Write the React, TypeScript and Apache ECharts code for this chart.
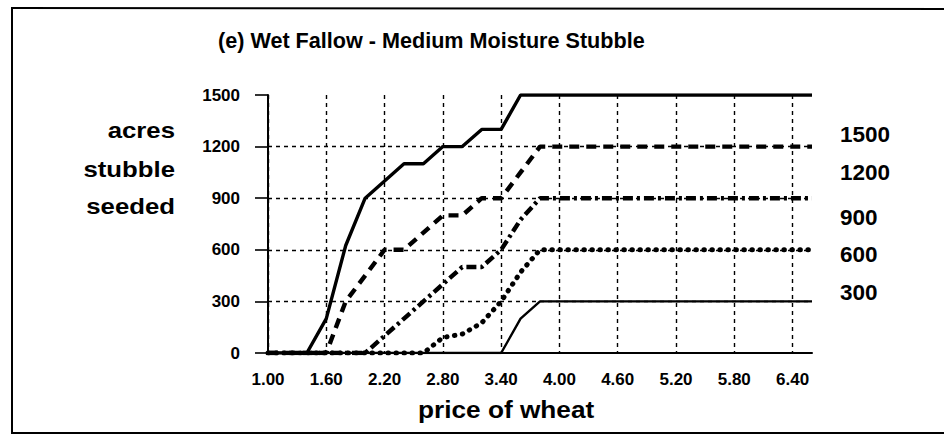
import React, { useEffect, useRef } from "react";
import * as echarts from "echarts";

const prices = [
  "1.00", "1.20", "1.40", "1.60", "1.80", "2.00", "2.20", "2.40", "2.60", "2.80",
  "3.00", "3.20", "3.40", "3.60", "3.80", "4.00", "4.20", "4.40", "4.60", "4.80",
  "5.00", "5.20", "5.40", "5.60", "5.80", "6.00", "6.20", "6.40", "6.60",
];

const yMin = 0;
const yMax = 1500;
const yStep = 300;

const acres1500 = [
  0, 0, 0, 200, 625, 900, 1000, 1100, 1100, 1200, 1200, 1300, 1300, 1500, 1500,
  1500, 1500, 1500, 1500, 1500, 1500, 1500, 1500, 1500, 1500, 1500, 1500, 1500, 1500,
];
const acres1200 = [
  0, 0, 0, 0, 300, 450, 600, 600, 700, 800, 800, 900, 900, 1050, 1200,
  1200, 1200, 1200, 1200, 1200, 1200, 1200, 1200, 1200, 1200, 1200, 1200, 1200, 1200,
];
const acres900 = [
  0, 0, 0, 0, 0, 0, 100, 200, 300, 400, 500, 500, 600, 775, 900,
  900, 900, 900, 900, 900, 900, 900, 900, 900, 900, 900, 900, 900, 900,
];
const acres600 = [
  0, 0, 0, 0, 0, 0, 0, 0, 0, 90, 110, 175, 300, 470, 600,
  600, 600, 600, 600, 600, 600, 600, 600, 600, 600, 600, 600, 600, 600,
];
const acres300 = [
  0, 0, 0, 0, 0, 0, 0, 0, 0, 0, 0, 0, 0, 200, 300,
  300, 300, 300, 300, 300, 300, 300, 300, 300, 300, 300, 300, 300, 300,
];

const seriesNames = ["1500", "1200", "900", "600", "300"];
const leftLabelLines = ["acres", "stubble", "seeded"];
const titleText = "(e) Wet Fallow - Medium Moisture Stubble";
const xAxisName = "price of wheat";

const FONT = "'Liberation Sans', Arial, Helvetica, sans-serif";

export default function App() {
  const ref = useRef<HTMLDivElement>(null);

  useEffect(() => {
    document.body.style.margin = "0";
    const chart = echarts.init(ref.current!, null, { renderer: "svg" });

    const gridStyle = { color: "#000", width: 1.4, type: [4, 4] as number[] };

    const rightLabelY = [134, 172.5, 217.5, 254, 292.5];
    const leftLabelY = [130.2, 168.9, 205.5];
    const frameStyle = { stroke: "#000", lineWidth: 2 };

    const graphic: any[] = [
      { type: "line", shape: { x1: 12, y1: 8, x2: 944, y2: 9 }, style: frameStyle, silent: true },
      { type: "line", shape: { x1: 12, y1: 7, x2: 12, y2: 434 }, style: frameStyle, silent: true },
      { type: "line", shape: { x1: 12, y1: 433, x2: 944, y2: 433 }, style: frameStyle, silent: true },
      ...leftLabelLines.map((t, i) => ({
        type: "text",
        x: 175,
        y: leftLabelY[i],
        scaleX: 1.12,
        style: {
          text: t,
          fontSize: 23,
          fontWeight: "bold",
          fontFamily: FONT,
          fill: "#000",
          align: "right",
          verticalAlign: "middle",
        },
      })),
      ...seriesNames.map((t, i) => ({
        type: "text",
        x: 840,
        y: rightLabelY[i],
        style: {
          text: t,
          fontSize: 22.5,
          fontWeight: "bold",
          fontFamily: FONT,
          fill: "#000",
          align: "left",
          verticalAlign: "middle",
        },
      })),
      {
        type: "text",
        x: 418,
        y: 409.6,
        scaleX: 1.14,
        style: {
          text: xAxisName,
          fontSize: 23,
          fontWeight: "bold",
          fontFamily: FONT,
          fill: "#000",
          align: "left",
          verticalAlign: "middle",
        },
      },
    ];

    const lineStyles: any[] = [
      { color: "#000", width: 3.4, type: "solid" },
      { color: "#000", width: 4.4, type: [10, 7] },
      { color: "#000", width: 4.4, type: [10, 4, 3, 4] },
      { color: "#000", width: 5, type: [0.5, 7.5], cap: "round" },
      { color: "#000", width: 2.4, type: "solid" },
    ];
    const dataSets = [acres1500, acres1200, acres900, acres600, acres300];

    chart.setOption({
      animation: false,
      backgroundColor: "#fff",
      title: {
        text: titleText,
        left: 218,
        top: 29,
        padding: 0,
        textStyle: { fontSize: 21.6, fontWeight: "bold", fontFamily: FONT, color: "#000" },
      },
      grid: { left: 268, right: 132, top: 95, bottom: 83, containLabel: false },
      xAxis: {
        type: "category",
        data: prices,
        boundaryGap: false,
        axisLine: { show: true, lineStyle: { color: "#000", width: 2 } },
        axisTick: { show: false },
        axisLabel: {
          interval: 2,
          margin: 18,
          fontSize: 17,
          fontWeight: "bold",
          fontFamily: FONT,
          color: "#000",
        },
        splitLine: { show: true, interval: 2, lineStyle: gridStyle },
      },
      yAxis: {
        type: "value",
        min: yMin,
        max: yMax,
        interval: yStep,
        axisLine: { show: true, lineStyle: { color: "#000", width: 2 } },
        axisTick: { show: true, length: 13, lineStyle: { color: "#000", width: 1.6 } },
        axisLabel: {
          margin: 28,
          fontSize: 17,
          fontWeight: "bold",
          fontFamily: FONT,
          color: "#000",
          formatter: (v: number) => String(v),
        },
        splitLine: { show: true, showMaxLine: false, showMinLine: false, lineStyle: gridStyle },
      },
      series: dataSets.map((d, i) => ({
        name: seriesNames[i],
        type: "line",
        data: d,
        symbol: "none",
        smooth: false,
        lineStyle: lineStyles[i],
        z: 3,
      })),
      graphic,
    });

    return () => chart.dispose();
  }, []);

  return (
    <div
      ref={ref}
      style={{ position: "absolute", left: 0, top: 0, width: 944, height: 436 }}
    />
  );
}
